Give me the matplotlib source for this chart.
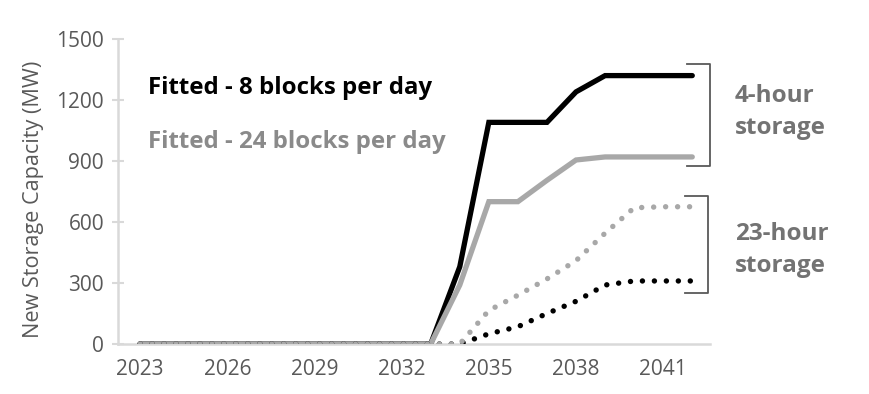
import matplotlib
matplotlib.use("Agg")
import matplotlib.pyplot as plt
import numpy as np

plt.rcParams['font.family'] = ['Open Sans', 'DejaVu Sans']

years = list(range(2023, 2043))
fitted8_4h = [0]*11 + [380, 1090, 1090, 1090, 1240, 1320, 1320, 1320, 1320]
fitted24_4h = [0]*11 + [290, 700, 700, 805, 905, 920, 920, 920, 920]
fitted8_23h = [0]*12 + [50, 85, 150, 210, 290, 310, 310, 310]
fitted24_23h = [0]*12 + [165, 240, 320, 410, 545, 670, 675, 675]
yticks = [0, 300, 600, 900, 1200, 1500]
xticks = [2023, 2026, 2029, 2032, 2035, 2038, 2041]

fig = plt.figure(figsize=(8.7, 3.94), dpi=100)
ax = fig.add_axes([118/870, 1-344/394, (710-118)/870, (344-39)/394])

ax.plot(years, fitted8_4h, color='#000000', lw=3.8, solid_capstyle='round', solid_joinstyle='miter', zorder=3)
ax.plot(years, fitted24_4h, color='#a8a8a8', lw=3.8, solid_capstyle='round', solid_joinstyle='miter', zorder=4)
ax.plot(years, fitted8_23h, color='#000000', lw=3.9, linestyle=(0, (0.01, 2.2)), dash_capstyle='round', zorder=5)
ax.plot(years, fitted24_23h, color='#a8a8a8', lw=3.9, linestyle=(0, (0.01, 2.2)), dash_capstyle='round', zorder=6)

ax.set_xlim(2022.24, 2042.61)
ax.set_ylim(0, 1500)
ax.set_yticks(yticks)
ax.set_xticks(xticks)
ax.tick_params(axis='y', direction='inout', length=8, width=1.5, color='#d9d9d9',
               labelcolor='#595959', labelsize=15, pad=6)
ax.tick_params(axis='x', length=0, labelcolor='#595959', labelsize=15, pad=11)
for s in ['top', 'right']:
    ax.spines[s].set_visible(False)
for s in ['left', 'bottom']:
    ax.spines[s].set_color('#d9d9d9')
    ax.spines[s].set_linewidth(1.8)
ax.set_ylabel('New Storage Capacity (MW)', color='#595959', fontsize=15.6)
ax.yaxis.set_label_coords(-0.125, 0.475)

fig.text(148/870, 1-88/394, 'Fitted - 8 blocks per day', fontsize=17.3, fontweight='bold',
         color='#000000', ha='left', va='center')
fig.text(148/870, 1-142/394, 'Fitted - 24 blocks per day', fontsize=17.3, fontweight='bold',
         color='#8a8a8a', ha='left', va='center')
fig.text(735/870, 1-112/394, '4-hour\nstorage', fontsize=17.5, fontweight='bold',
         color='#737373', ha='left', va='center', linespacing=1.45)
fig.text(735/870, 1-250/394, '23-hour\nstorage', fontsize=17.5, fontweight='bold',
         color='#737373', ha='left', va='center', linespacing=1.45)

def bracket(x0, x1, ytop, ybot):
    X = np.array([x0, x1, x1, x0]) / 870
    Y = 1 - np.array([ytop, ytop, ybot, ybot]) / 394
    fig.add_artist(plt.Line2D(X, Y, transform=fig.transFigure, color='#595959', lw=1.3,
                              solid_joinstyle='round'))

bracket(687, 710, 64, 166)
bracket(685, 708, 196, 293)

fig.savefig('out.png', dpi=100, facecolor='white')
